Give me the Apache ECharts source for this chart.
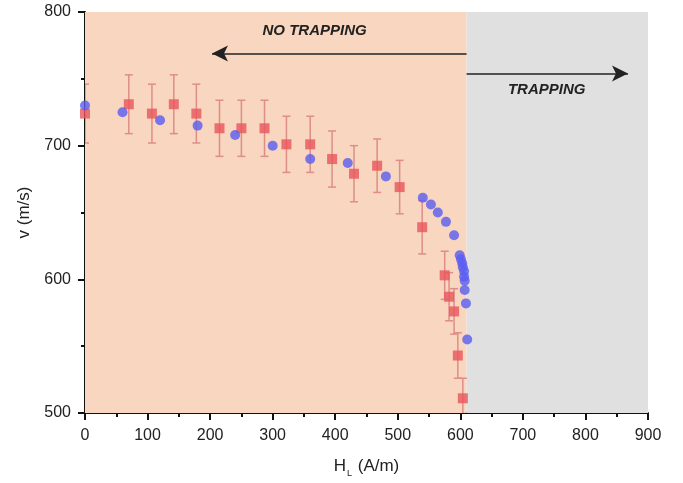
<!DOCTYPE html>
<html>
<head>
<meta charset="utf-8">
<script src="https://cdn.jsdelivr.net/npm/echarts@6/dist/echarts.min.js"></script>
<style>
  html, body { margin: 0; padding: 0; background: #fff; }
  #chart { width: 683px; height: 483px; }
</style>
</head>
<body>
<div id="chart"></div>
<script>
// red squares with error bars
const redH = [0, 70, 107, 142, 178, 215, 250, 287, 322, 360, 395, 430, 467, 503, 539, 575, 582, 590, 596, 604, 610]
const redV = [724, 731, 724, 731, 724, 713, 713, 713, 701, 701, 690, 679, 685, 669, 639, 603, 587, 576, 543, 511, 498]
const redErr = [22, 22, 22, 22, 22, 21, 21, 21, 21, 21, 21, 21, 20, 20, 20, 18, 18, 17, 17, 15, 0]

// blue circles
const blueH = [0, 60, 120, 180, 240, 300, 360, 420, 481, 540, 553, 564, 577, 590, 599, 601, 603, 604, 606, 606, 607, 607, 609, 611]
const blueV = [730, 725, 719, 715, 708, 700, 690, 687, 677, 661, 656, 650, 643, 633, 618, 615, 612, 609, 606, 602, 599, 592, 582, 555]

// regions and arrows
const threshold = 610
const noTrapArrow = [[610, 769], [203, 769]]
const trapArrow = [[610, 754], [868, 754]]
const noTrapLabel = [367, 786]
const trapLabel = [738, 742]

const FONT = 'Liberation Sans'

const redPoints = redH.map((h, i) => [h, redV[i]])
const errData = redH.map((h, i) => [h, redV[i] - redErr[i], redV[i] + redErr[i]])
const bluePoints = blueH.map((h, i) => [h, blueV[i]])

const chart = echarts.init(document.getElementById('chart'))

const axisCommon = {
  axisLine: { show: true, lineStyle: { color: '#111', width: 2 } },
  axisTick: { show: true, inside: false, length: 7, lineStyle: { color: '#111', width: 2 } },
  minorTick: { show: true, splitNumber: 2, length: 4, lineStyle: { color: '#111', width: 2 } },
  splitLine: { show: false }
}

const option = {
  animation: false,
  grid: { left: 85, right: 35, top: 12, bottom: 70 },
  xAxis: {
    type: 'value',
    min: 0,
    max: 900,
    interval: 100,
    name: '{a|H}{b|L}{a| (A/m)}',
    nameLocation: 'middle',
    nameGap: 42,
    nameTextStyle: {
      rich: {
        a: { fontFamily: FONT, fontSize: 17, color: '#222' },
        b: { fontFamily: FONT, fontSize: 9, color: '#222', padding: [14, 1, 0, 1] }
      }
    },
    axisLabel: { fontFamily: FONT, fontSize: 16, color: '#222', margin: 15 },
    ...axisCommon
  },
  yAxis: {
    type: 'value',
    min: 500,
    max: 800,
    interval: 100,
    name: 'v (m/s)',
    nameLocation: 'middle',
    nameGap: 52,
    nameTextStyle: { fontFamily: FONT, fontSize: 17, color: '#222' },
    axisLabel: { fontFamily: FONT, fontSize: 16, color: '#222', margin: 14 },
    ...axisCommon
  },
  series: [
    {
      // background regions and arrows
      type: 'line',
      data: [],
      silent: true,
      markArea: {
        silent: true,
        data: [
          [{ coord: [0, 500], itemStyle: { color: '#f8d6bf' } }, { coord: [threshold, 800] }],
          [{ coord: [threshold, 500], itemStyle: { color: '#e1e0e0' } }, { coord: [900, 800] }]
        ]
      },
      markLine: {
        silent: true,
        symbol: ['none', 'arrow'],
        symbolSize: [12, 16],
        label: { show: false },
        lineStyle: { color: '#222', width: 1.6, type: 'solid' },
        data: [
          [{ coord: noTrapArrow[0] }, { coord: noTrapArrow[1] }],
          [{ coord: trapArrow[0] }, { coord: trapArrow[1] }]
        ]
      },
      markPoint: {
        silent: true,
        symbol: 'circle',
        symbolSize: 0,
        label: {
          show: true,
          fontFamily: FONT,
          fontSize: 15,
          fontStyle: 'italic',
          fontWeight: 'bold',
          color: '#222',
          formatter: p => p.name
        },
        data: [
          { name: 'NO TRAPPING', coord: noTrapLabel },
          { name: 'TRAPPING', coord: trapLabel }
        ]
      }
    },
    {
      // error bars
      type: 'custom',
      silent: true,
      clip: true,
      data: errData,
      renderItem: (params, api) => {
        const x = api.value(0)
        const lo = api.coord([x, api.value(1)])
        const hi = api.coord([x, api.value(2)])
        const cap = 4
        const style = { stroke: '#de8e86', lineWidth: 1.5 }
        return {
          type: 'group',
          children: [
            { type: 'line', shape: { x1: lo[0], y1: lo[1], x2: hi[0], y2: hi[1] }, style },
            { type: 'line', shape: { x1: lo[0] - cap, y1: lo[1], x2: lo[0] + cap, y2: lo[1] }, style },
            { type: 'line', shape: { x1: hi[0] - cap, y1: hi[1], x2: hi[0] + cap, y2: hi[1] }, style }
          ]
        }
      }
    },
    {
      type: 'scatter',
      symbol: 'rect',
      symbolSize: 10,
      clip: true,
      itemStyle: { color: '#e8555c' },
      data: redPoints
    },
    {
      type: 'scatter',
      symbol: 'circle',
      symbolSize: 10,
      clip: true,
      itemStyle: { color: '#5a5cf0' },
      data: bluePoints
    }
  ]
}

chart.setOption(option)
</script>
</body>
</html>
